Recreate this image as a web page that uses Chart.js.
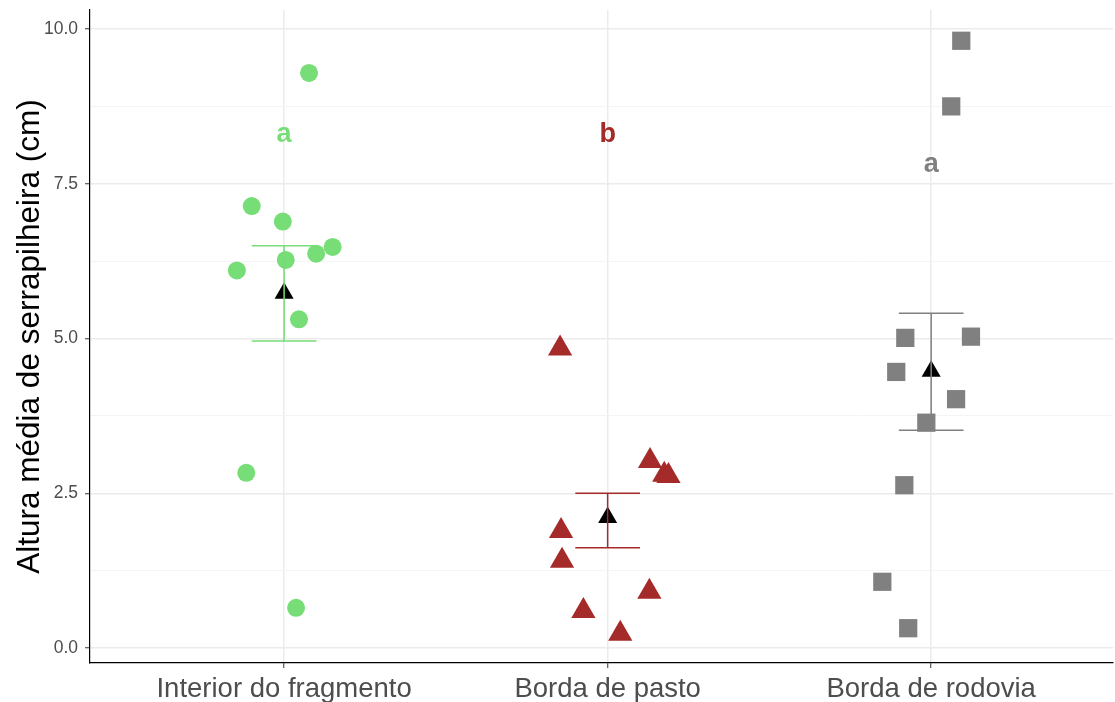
<!DOCTYPE html>
<html>
<head>
<meta charset="utf-8">
<script src="https://cdn.jsdelivr.net/npm/chart.js@4.4.1/dist/chart.umd.min.js"></script>
<style>
  html, body { margin: 0; padding: 0; background: #ffffff; overflow: hidden; }
  #wrap { width: 1115px; height: 702px; position: relative; }
</style>
</head>
<body>
<div id="wrap"><canvas id="c"></canvas></div>
<script>
// ---- data ----
const categories = ['Interior do fragmento', 'Borda de pasto', 'Borda de rodovia'];
const groupColors = ['#77DD77', '#A52A2A', '#808080'];

const interiorX = [1.077, 0.900, 0.996, 0.854, 1.005, 1.099, 1.150, 1.046, 0.883, 1.037];
const interiorY = [9.29, 7.14, 6.89, 6.10, 6.27, 6.37, 6.48, 5.31, 2.83, 0.65];

const pastoX = [1.853, 2.131, 2.175, 2.188, 1.856, 1.859, 1.925, 2.129, 2.039];
const pastoY = [4.84, 3.02, 2.80, 2.78, 1.89, 1.41, 0.60, 0.91, 0.23];

const rodoviaX = [3.093, 3.062, 2.920, 3.123, 2.892, 3.077, 2.985, 2.917, 2.849, 2.929];
const rodoviaY = [9.81, 8.75, 5.01, 5.03, 4.46, 4.02, 3.64, 2.63, 1.07, 0.32];

const groupMeans = [5.73, 2.11, 4.47];
const errLow = [4.96, 1.62, 3.52];
const errHigh = [6.50, 2.50, 5.41];

const letters = ['a', 'b', 'a'];
const letterY = [8.18, 8.18, 7.69];

const yTicks = [0, 1.25, 2.5, 3.75, 5, 6.25, 7.5, 8.75, 10];
const yTickLabels = ['0.0', '', '2.5', '', '5.0', '', '7.5', '', '10.0'];
const xTicks = [1, 2, 3];

// ---- build datasets ----
const FONT = '"Liberation Sans", Arial, Helvetica, sans-serif';
const pts = (xs, ys) => xs.map((x, i) => ({ x: x, y: ys[i] }));
const catPos = categories.map((c, i) => i + 1);
const halfW = 0.1;

const errorDatasets = catPos.map((cx, i) => ({
  type: 'scatter',
  showLine: true,
  spanGaps: false,
  data: [
    { x: cx - halfW, y: errHigh[i] }, { x: cx + halfW, y: errHigh[i] },
    { x: cx, y: null },
    { x: cx, y: errHigh[i] }, { x: cx, y: errLow[i] },
    { x: cx + 0.0001, y: null },
    { x: cx - halfW, y: errLow[i] }, { x: cx + halfW, y: errLow[i] }
  ],
  borderColor: groupColors[i],
  borderWidth: 1.5,
  pointRadius: 0,
  fill: false
}));

const pointDatasets = [
  { data: pts(interiorX, interiorY), pointStyle: 'circle', pointRadius: 9, backgroundColor: groupColors[0] },
  { data: pts(pastoX, pastoY), pointStyle: 'triangle', pointRadius: 14, backgroundColor: groupColors[1] },
  { data: pts(rodoviaX, rodoviaY), pointStyle: 'rect', pointRadius: 12.9, backgroundColor: groupColors[2] }
].map(d => Object.assign({ type: 'scatter', borderWidth: 0, borderColor: 'rgba(0,0,0,0)' }, d));

const meanDataset = {
  type: 'scatter',
  data: pts(catPos, groupMeans),
  pointStyle: 'triangle',
  pointRadius: 11,
  backgroundColor: '#000000',
  borderWidth: 0
};

const lettersPlugin = {
  id: 'letters',
  afterDatasetsDraw(chart) {
    const { ctx, scales } = chart;
    ctx.save();
    ctx.font = 'bold 27px ' + FONT;
    ctx.textAlign = 'center';
    ctx.textBaseline = 'alphabetic';
    letters.forEach((l, i) => {
      ctx.fillStyle = groupColors[i];
      ctx.fillText(l, scales.x.getPixelForValue(catPos[i]), scales.y.getPixelForValue(letterY[i]));
    });
    ctx.restore();
  }
};

new Chart(document.getElementById('c'), {
  type: 'scatter',
  data: { datasets: [...errorDatasets, ...pointDatasets, meanDataset] },
  plugins: [lettersPlugin],
  options: {
    responsive: true,
    maintainAspectRatio: false,
    animation: false,
    events: [],
    layout: { autoPadding: false, padding: { top: 10, right: 2, left: 0, bottom: 0 } },
    plugins: { legend: { display: false }, tooltip: { enabled: false } },
    scales: {
      x: {
        type: 'linear',
        min: 0.4,
        max: 3.562,
        afterBuildTicks(scale) { scale.ticks = xTicks.map(v => ({ value: v })); },
        afterFit(scale) { scale.height = 39; scale.paddingLeft = 0; scale.paddingRight = 0; },
        ticks: {
          autoSkip: false,
          maxRotation: 0,
          padding: 5,
          color: '#4d4d4d',
          font: { family: FONT, size: 27.5 },
          callback: (v) => categories[Math.round(v) - 1] || ''
        },
        grid: {
          color: '#ebebeb',
          lineWidth: 1.5,
          drawTicks: true,
          tickLength: 5,
          tickColor: '#333333',
          tickWidth: 1
        },
        border: { display: true, color: '#000000', width: 1.2 }
      },
      y: {
        type: 'linear',
        min: -0.242,
        max: 10.307,
        afterBuildTicks(scale) { scale.ticks = yTicks.map(v => ({ value: v })); },
        afterFit(scale) { scale.width = 90; scale.paddingTop = 0; scale.paddingBottom = 0; },
        ticks: {
          autoSkip: false,
          padding: 7,
          color: '#4d4d4d',
          font: { family: FONT, size: 17.5 },
          callback: (v, i) => yTickLabels[i]
        },
        grid: {
          color: (ctx) => (ctx.tick && ctx.index % 2 === 1) ? '#f4f4f4' : '#ebebeb',
          lineWidth: (ctx) => (ctx.tick && ctx.index % 2 === 1) ? 1 : 1.5,
          drawTicks: true,
          tickLength: 5,
          tickColor: (ctx) => (ctx.index % 2 === 1) ? 'rgba(0,0,0,0)' : '#333333',
          tickWidth: 1
        },
        border: { display: true, color: '#000000', width: 1.2 },
        title: {
          display: true,
          text: 'Altura média de serrapilheira (cm)',
          color: '#000000',
          font: { family: FONT, size: 31.5 },
          padding: { top: 11, bottom: 0 }
        }
      }
    }
  }
});
</script>
</body>
</html>
